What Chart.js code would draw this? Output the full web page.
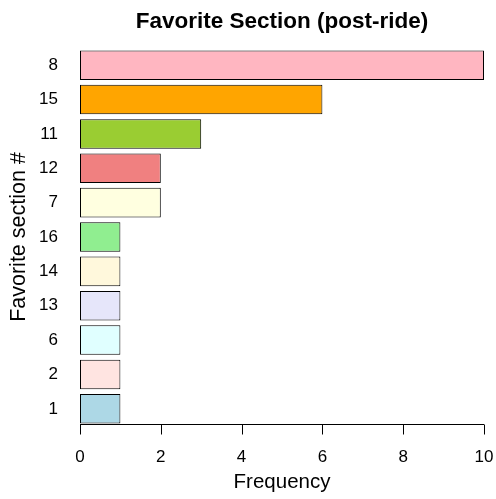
<!DOCTYPE html>
<html>
<head>
<meta charset="utf-8">
<script src="https://cdn.jsdelivr.net/npm/chart.js@4.4.1/dist/chart.umd.min.js"></script>
<style>
  body { margin: 0; background: #fff; }
</style>
</head>
<body>
<canvas id="mainChart" width="496" height="499"></canvas>
<script>
// favourite section numbers, top to bottom
var sections = ['8', '15', '11', '12', '7', '16', '14', '13', '6', '2', '1'];
var counts = [10, 6, 3, 2, 2, 1, 1, 1, 1, 1, 1];
var barColors = ['#FFB6C1', '#FFA500', '#9ACD32', '#F08080', '#FFFFE0', '#90EE90',
                 '#FFF8DC', '#E6E6FA', '#E0FFFF', '#FFE4E1', '#ADD8E6'];
var xTicks = [0, 2, 4, 6, 8, 10];

Chart.defaults.font.family = "'Liberation Sans', Arial, sans-serif";
Chart.defaults.color = '#000';

// R style x axis: line + ticks sitting on the bottom bar
var axisLine = {
  id: 'axisLine',
  afterDraw: function(chart) {
    var ctx = chart.ctx;
    var xs = chart.scales.x;
    var bars = chart.getDatasetMeta(0).data;
    var last = bars[bars.length - 1];
    var yb = Math.round(last.y + last.height / 2) + 0.5;
    ctx.save();
    ctx.strokeStyle = '#000';
    ctx.lineWidth = 1;
    ctx.beginPath();
    ctx.moveTo(xs.getPixelForValue(xTicks[0]), yb);
    ctx.lineTo(xs.getPixelForValue(xTicks[xTicks.length - 1]), yb);
    for (var i = 0; i < xTicks.length; i++) {
      var px = Math.round(xs.getPixelForValue(xTicks[i])) + 0.5;
      ctx.moveTo(px, yb);
      ctx.lineTo(px, yb + 10);
    }
    ctx.stroke();
    ctx.restore();
  }
};

var chart = new Chart(document.getElementById('mainChart'), {
  type: 'bar',
  data: {
    labels: sections,
    datasets: [{
      data: counts,
      backgroundColor: barColors,
      borderColor: '#000',
      borderWidth: 1,
      borderSkipped: false,
      barPercentage: 0.86,
      categoryPercentage: 1
    }]
  },
  options: {
    indexAxis: 'y',
    responsive: false,
    animation: false,
    layout: { padding: { left: 0, right: 12, top: 0, bottom: 0 } },
    plugins: {
      legend: { display: false },
      tooltip: { enabled: false },
      title: {
        display: true,
        fullSize: false,
        text: 'Favorite Section (post-ride)',
        font: { size: 22.5, weight: 'bold' },
        padding: { top: 8, bottom: 13 }
      }
    },
    scales: {
      x: {
        min: 0,
        max: 10,
        grid: { display: false, drawTicks: false },
        border: { display: false },
        ticks: { stepSize: 2, padding: 21, font: { size: 17 } },
        title: { display: true, text: 'Frequency', font: { size: 20.5 }, padding: { top: 0, bottom: 4 } },
        afterFit: function(s) { s.height = 73; s.paddingLeft = 0; s.paddingRight = 0; }
      },
      y: {
        grid: { display: false, drawTicks: false },
        border: { display: false },
        ticks: { padding: 22, font: { size: 17 } },
        title: { display: true, text: 'Favorite section #', font: { size: 21.5 }, padding: { top: 6, bottom: 0 } },
        afterFit: function(s) { s.width = 80; s.paddingTop = 0; s.paddingBottom = 0; }
      }
    }
  },
  plugins: [axisLine]
});
</script>
</body>
</html>
